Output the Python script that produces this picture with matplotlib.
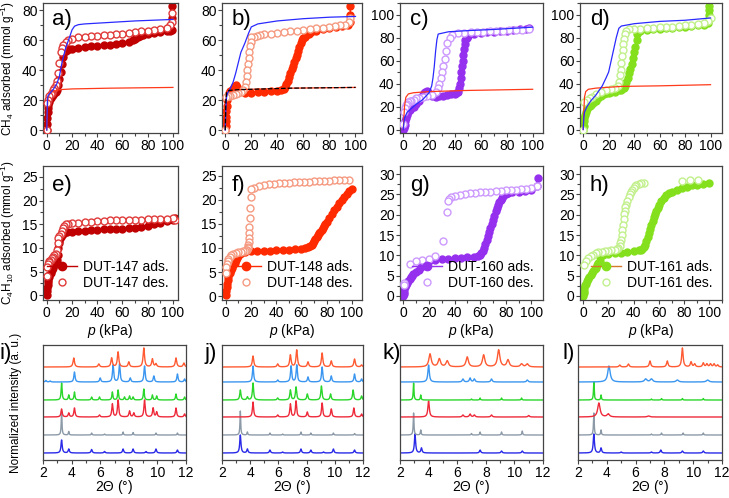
import numpy as np
import matplotlib
matplotlib.use("Agg")
import matplotlib.pyplot as plt
from matplotlib.ticker import MultipleLocator

plt.rcParams["font.family"] = ["Liberation Sans", "DejaVu Sans"]
plt.rcParams["mathtext.fontset"] = "custom"
plt.rcParams["mathtext.rm"] = "Liberation Sans"
plt.rcParams["mathtext.it"] = "Liberation Sans:italic"

# ---------------- CH4 isotherms (row 1) ----------------
# a) DUT-147
a_ads_p = [0, 0.2, 0.4, 0.6, 0.8, 1, 1.5, 2, 3, 4, 5, 6, 7, 8, 9, 10, 11, 12, 13, 14, 15, 16, 18, 20, 25, 30, 35, 40, 45, 50, 55, 60, 65, 68, 70, 72, 74, 76, 80, 85, 90, 95, 98, 99, 99, 99]
a_ads_n = [0, 4, 8, 12, 15, 17, 19, 20, 21.5, 22.5, 23.5, 24.5, 25.5, 27, 30, 34, 39, 44, 49, 52, 53, 53.5, 54, 54.5, 55, 55.5, 56, 56.3, 56.7, 57, 57.5, 58, 59, 60, 61, 62, 63, 63.5, 64, 64.8, 65.3, 66, 66.5, 67, 75, 83]
a_des_p = [99, 99, 98, 95, 90, 85, 80, 75, 70, 65, 60, 55, 50, 45, 40, 35, 30, 25, 20, 17, 15, 13, 12, 11, 10, 9, 8, 7, 6, 5, 4, 3, 2, 1, 0.5, 0]
a_des_n = [78, 72, 70, 68.5, 67.5, 67, 66.5, 66, 65.5, 65, 64.5, 64, 63.8, 63.5, 63.2, 63, 62.5, 62, 61, 60, 59, 57, 55, 52, 45, 38, 33, 30, 28, 26.5, 25, 24, 22.5, 20, 18, 0]
a_sim1_p = [0, 0.5, 1, 3, 5, 8, 10, 12, 15, 18, 20, 22, 25, 30, 50, 70, 100]
a_sim1_n = [0, 20, 23, 25, 27, 31, 36, 45, 55, 62, 67, 69.5, 70.5, 71, 72, 73, 74]
a_sim2_p = [0, 0.5, 1, 3, 6, 10, 20, 50, 100]
a_sim2_n = [0, 15, 22, 25, 26, 27, 27.5, 28, 28.5]

# b) DUT-148
b_ads_p = [0, 0.2, 0.4, 0.6, 0.8, 1, 1.5, 2, 3, 4, 5, 6, 7, 8, 9, 10, 12, 15, 20, 25, 30, 35, 40, 43, 45, 46, 47, 48, 49, 50, 51, 52, 53, 54, 55, 56, 57, 58, 59, 60, 61, 62, 64, 66, 70, 75, 80, 85, 90, 94, 96, 96, 96]
b_ads_n = [0, 3, 6, 9, 13, 16, 20, 23, 25, 26, 26.5, 27.5, 29, 30, 29, 27.5, 26, 25, 25, 25.3, 25.5, 25.8, 26, 26.5, 27.5, 29, 31, 33, 35.5, 38, 40.5, 43, 45.5, 48, 50.5, 53, 55.5, 58, 60, 61.5, 62.5, 63.5, 64.5, 65.5, 66.5, 67.3, 68, 68.7, 69.5, 70.5, 72, 77, 83]
b_des_p = [96, 95, 92, 88, 84, 80, 75, 70, 65, 60, 55, 50, 45, 40, 35, 30, 27, 24, 22, 20, 19.5, 19, 18.5, 18, 17.5, 17, 16.5, 16, 15, 14, 12, 10, 8, 6, 4, 2, 0.5, 0]
b_des_n = [75, 72, 70.5, 70, 69.5, 69, 68.5, 68, 67.5, 67, 66.5, 66, 65.5, 65, 64.5, 64, 63.5, 63, 62.5, 62, 59, 56, 52, 48, 44, 40, 36, 32, 29, 27, 25.5, 24.5, 24, 23.5, 23, 22.5, 22, 0]
b_sim1_p = [0, 0.5, 1, 2, 4, 6, 8, 10, 12, 15, 18, 20, 25, 40, 60, 80, 100]
b_sim1_n = [0, 15, 22, 25, 28, 32, 38, 45, 52, 58, 65, 69, 71, 73, 74.5, 75.5, 76]
b_sim2_p = [0, 0.5, 1, 3, 10, 50, 100]
b_sim2_n = [0, 20, 25, 26.5, 27, 28, 28.5]

# c) DUT-160
c_ads_p = [0, 0.3, 0.6, 1, 1.5, 2, 3, 4, 5, 6, 8, 10, 12, 14, 15, 16, 17, 18, 19, 20, 22, 25, 28, 31, 34, 37, 40, 41, 42, 43, 44, 44.5, 45, 45.5, 46, 46.5, 47, 47.5, 48, 49, 50, 55, 60, 65, 70, 75, 80, 85, 90, 95, 97]
c_ads_n = [0, 1, 2, 4, 7, 10, 13, 15, 17, 18.5, 20, 22, 25, 28, 30, 31.5, 33, 33.5, 33, 30, 29, 28.5, 29, 29.5, 30, 30.5, 31, 31.5, 33, 36, 40, 45, 50, 55, 60, 65, 70, 74, 78, 80, 81.5, 83, 84, 84.5, 85, 85.5, 86, 86.5, 87, 87.5, 88]
c_des_p = [97, 92, 87, 82, 77, 72, 67, 62, 57, 52, 47, 42, 38, 36, 34, 33, 32, 31, 30, 29, 28, 27, 25, 22, 18, 15, 12, 10, 8, 6, 5, 4, 3, 2, 1, 0.5, 0]
c_des_n = [87, 86.8, 86.5, 86.2, 86, 85.7, 85.5, 85.2, 85, 84.6, 84.2, 83.5, 82.5, 80, 75, 68, 61, 55, 50, 45, 40, 36, 33, 30, 29, 28.5, 27.5, 27, 26, 25, 24.5, 24, 22.5, 21, 19, 15, 5]
c_sim1_p = [0, 1, 3, 6, 10, 15, 20, 22, 23, 24, 25, 26, 27, 35, 50, 70, 100]
c_sim1_n = [0, 10, 15, 18, 22, 26, 32, 38, 45, 55, 68, 78, 83, 85, 86, 87, 89]
c_sim2_p = [0, 0.5, 1, 2, 4, 8, 20, 50, 100]
c_sim2_n = [0, 10, 20, 28, 31, 32, 33, 34, 35]

# d) DUT-161
d_ads_p = [0, 0.3, 0.6, 1, 1.5, 2, 3, 4, 5, 6, 8, 10, 12, 14, 16, 18, 20, 22, 25, 28, 30, 32, 33, 34, 35, 36, 37, 38, 39, 40, 41, 42, 42.5, 45, 50, 55, 60, 65, 70, 75, 80, 85, 90, 95, 98, 99, 99, 99, 99]
d_ads_n = [0, 3, 7, 10, 13, 15, 18, 19.5, 20.5, 21.5, 23, 25, 27.5, 29.5, 30.5, 31.5, 32, 32.5, 33, 34, 34.5, 36, 38, 41, 45, 49, 53, 57, 62, 67, 72, 78, 83, 85.5, 86.5, 87, 87.5, 88, 88.5, 89, 89.5, 90, 90.5, 91, 93, 96, 100, 104, 107]
d_des_p = [100, 98, 95, 90, 85, 80, 75, 70, 65, 60, 55, 50, 45, 40, 36, 34, 33, 32, 31.5, 31, 30.5, 30, 29.5, 29, 28, 27, 25, 22, 18, 14, 10, 7, 5, 3, 1, 0]
d_des_n = [97, 94, 92.5, 91.5, 91, 90.5, 90, 89.5, 89, 88.8, 88.5, 88, 87.8, 87.5, 87, 86, 83, 79, 74, 69, 64, 58, 52, 47, 41, 38, 36.5, 35.5, 34.5, 33, 30.5, 28.5, 27, 25.5, 24, 0]
d_sim1_p = [0, 0.5, 1, 3, 6, 10, 15, 18, 20, 22, 24, 26, 28, 30, 40, 60, 80, 100]
d_sim1_n = [0, 10, 15, 20, 25, 30, 38, 45, 50, 60, 70, 80, 88, 90, 92, 94, 95, 97]
d_sim2_p = [0, 0.5, 1, 2, 4, 10, 30, 60, 100]
d_sim2_n = [0, 15, 28, 33, 35, 36, 37.5, 38, 39]

# ---------------- C4H10 isotherms (row 2) ----------------
e_ads_p = [0, 0.2, 0.4, 0.6, 0.8, 1, 1.5, 2, 3, 4, 5, 6, 7, 8, 8.5, 9, 9.5, 10, 10.5, 11, 12, 13, 14, 16, 20, 25, 30, 35, 40, 45, 50, 55, 60, 65, 70, 75, 80, 85, 90, 95, 100, 102]
e_ads_n = [0, 0.8, 1.5, 2.2, 2.8, 3.2, 3.8, 4.2, 4.8, 5.3, 5.8, 6.3, 6.8, 7.5, 8.5, 10, 11, 11.5, 12, 12.3, 12.7, 13, 13.1, 13.3, 13.4, 13.5, 13.6, 13.7, 13.8, 13.9, 14, 14, 14.1, 14.2, 14.3, 14.5, 14.7, 15, 15.3, 15.7, 16, 16.3]
e_des_p = [102, 100, 95, 90, 85, 80, 75, 70, 65, 60, 55, 50, 45, 40, 35, 30, 25, 20, 17, 15, 14, 13, 12, 11, 10, 9, 8.5, 8, 7, 6, 5, 4, 3, 2, 1.5, 1, 0.5, 0]
e_des_n = [16, 16.3, 16.2, 16.2, 16.1, 16.1, 16, 16, 15.9, 15.9, 15.8, 15.8, 15.7, 15.6, 15.5, 15.4, 15.3, 15.2, 15.1, 15, 14.6, 14.2, 13.6, 13, 12.5, 12, 11, 9.5, 8.8, 8.4, 8.1, 7.8, 7.5, 7.2, 7, 6.6, 6, 4]

f_ads_p = [0, 0.3, 0.6, 1, 1.5, 2, 3, 4, 5, 6, 7, 8, 9, 10, 11, 12, 15, 20, 25, 30, 35, 40, 45, 50, 55, 60, 63, 65, 67, 68, 69, 70, 71, 72, 73, 74, 75, 76, 77, 78, 79, 80, 82, 84, 86, 88, 90, 92, 94, 96, 98, 100]
f_ads_n = [0.3, 1, 1.8, 2.6, 3.4, 4, 4.8, 5.4, 5.9, 6.4, 6.9, 7.4, 7.9, 8.4, 8.8, 9, 9.2, 9.3, 9.35, 9.4, 9.45, 9.5, 9.55, 9.6, 9.7, 9.8, 9.95, 10.1, 10.4, 10.7, 11, 11.4, 11.8, 12.2, 12.6, 13, 13.4, 13.8, 14.2, 14.6, 15, 15.4, 16.2, 17, 17.8, 18.5, 19.3, 20, 20.6, 21.2, 21.8, 22.3]
f_des_p = [98, 94, 90, 86, 82, 78, 74, 70, 66, 62, 58, 54, 50, 46, 42, 38, 34, 30, 26, 22, 20, 19.6, 19.3, 19, 18.8, 18.6, 18.4, 18.2, 18, 17.8, 17.5, 17, 16, 15, 14, 12, 10, 8, 6, 4, 3, 2, 1.5, 1, 0.5, 0]
f_des_n = [24, 24.1, 24, 24, 23.9, 23.9, 23.8, 23.8, 23.7, 23.7, 23.6, 23.6, 23.5, 23.5, 23.4, 23.3, 23.2, 23, 22.8, 22.5, 22.3, 20.5, 18.3, 16.2, 14.3, 13, 12, 11.2, 10.7, 10.2, 9.9, 9.6, 9.5, 9.4, 9.3, 9.2, 9.1, 9, 8.8, 8.5, 8.2, 7.8, 7.3, 6.7, 6, 4.8]

g_ads_p = [0, 0.3, 0.6, 1, 1.5, 2, 3, 4, 5, 6, 7, 8, 10, 12, 14, 16, 17, 18, 20, 25, 30, 35, 40, 45, 50, 55, 58, 60, 61, 62, 63, 64, 65, 66, 67, 68, 69, 70, 71, 72, 73, 74, 75, 76, 77, 78, 80, 82, 85, 90, 95, 100, 104, 105]
g_ads_n = [0, 0.5, 1, 1.6, 2.2, 2.7, 3.3, 3.8, 4.2, 4.6, 5, 5.3, 5.9, 6.5, 7.1, 7.7, 8, 8.4, 8.6, 8.8, 9, 9.2, 9.3, 9.4, 9.5, 9.6, 9.8, 10.1, 10.5, 11, 11.8, 12.8, 13.8, 14.8, 15.8, 16.8, 17.8, 18.8, 19.8, 20.8, 21.6, 22.4, 23.1, 23.7, 24.2, 24.6, 25, 25.3, 25.5, 25.7, 25.9, 26.2, 27, 29]
g_des_p = [104, 100, 96, 92, 88, 84, 80, 76, 72, 68, 64, 60, 56, 52, 48, 44, 40, 37, 36, 35, 34, 31, 25, 20, 15, 10, 5, 1, 0.5]
g_des_n = [27, 26.5, 26.4, 26.3, 26.2, 26.1, 26, 25.9, 25.8, 25.7, 25.6, 25.5, 25.4, 25.3, 25.1, 24.9, 24.6, 24.3, 23.8, 23.3, 20.7, 13.6, 9.9, 9, 8.8, 8.5, 7.8, 3.2, 2.6]

h_ads_p = [0, 0.3, 0.6, 1, 1.5, 2, 3, 4, 5, 6, 7, 8, 9, 10, 11, 12, 13, 13.5, 14, 16, 20, 25, 30, 35, 40, 44, 46, 47, 48, 49, 50, 51, 52, 53, 54, 55, 56, 57, 58, 59, 60, 62, 64, 66, 68, 70, 74, 78, 82, 86, 90, 95, 100]
h_ads_n = [0, 0.7, 1.3, 2, 2.6, 3, 3.7, 4.2, 4.7, 5.2, 5.7, 6.1, 6.6, 7, 7.5, 8, 8.7, 9.5, 10, 10.2, 10.3, 10.5, 10.6, 10.8, 11, 11.2, 11.4, 11.6, 12, 12.6, 13.5, 14.5, 15.5, 16.5, 17.5, 18.5, 19.4, 20.2, 21, 21.7, 22.3, 23.3, 24.1, 24.8, 25.3, 25.7, 26.2, 26.6, 26.9, 27.2, 27.4, 27.6, 27.9]
h_des_p = [91, 85, 78, 48, 46, 44, 42, 41, 40, 39, 38, 37, 36, 35, 34, 33.5, 33, 32.5, 32, 31.5, 31, 30.5, 30, 29.5, 29, 28, 27, 25, 22, 20, 17, 15, 12, 10, 8, 6, 4, 2, 1]
h_des_n = [28.5, 28.5, 28.3, 27.9, 27.8, 27.6, 27.3, 27, 26.7, 26.2, 25.6, 25, 24.3, 23.5, 22.5, 21.8, 21, 20.2, 19, 17.5, 16.2, 15, 13.8, 13, 12.4, 11.8, 11.6, 11.4, 11.2, 11.1, 11, 10.9, 10.7, 10.5, 10.2, 9.8, 9.3, 8.5, 7.6]

# ---------------- PXRD (row 3): peak positions / heights, bottom -> top ----------------
trace_colors = ["#2a2ae8", "#8c9aa8", "#ee2a3a", "#2ad62a", "#3a96f0", "#ff5a32"]
offsets = [7, 25, 43, 60, 78, 93]

pos_i = [[3.3, 3.8, 5.4, 6.3, 7.6, 8.3, 9.2, 9.9, 11.4],
         [3.3, 3.8, 5.4, 6.3, 7.6, 8.3, 9.9, 11.4],
         [3.3, 3.8, 4.2, 5.95, 6.85, 7.25, 8.05, 8.35, 9.1, 9.7, 9.95, 11.3, 11.9],
         [3.3, 3.8, 4.2, 5.4, 5.95, 6.85, 7.25, 7.7, 8.05, 8.3, 9.05, 9.65, 9.95, 11.3, 11.9],
         [2.2, 2.5, 4.2, 6.0, 6.9, 7.35, 8.1, 9.1, 9.75, 11.4, 11.9],
         [4.15, 5.9, 6.8, 7.25, 8.0, 9.05, 9.65, 9.9, 11.3, 11.85]]
hgt_i = [[13, 4, 3.5, 1.5, 4, 4, 1.5, 4, 3],
         [24, 3.5, 2, 1, 3, 2.5, 2, 2],
         [8, 4, 9, 2, 13, 17, 6, 4, 17, 9, 5, 9, 3],
         [17, 5, 8, 3, 3, 8, 10, 3, 4, 3, 11, 5, 4, 6, 3],
         [1.5, 1, 10, 4, 17, 18, 4, 16, 6, 8, 3],
         [9, 3, 9, 15, 5, 19, 8, 3, 9, 4]]
wid_i = [0.05, 0.03, 0.05, 0.04, 0.05, 0.06]

pos_j = [[3.3, 3.8, 5.4, 6.3, 7.6, 8.3, 9.2, 9.9, 11.4],
         [3.3, 3.8, 5.4, 6.3, 7.6, 8.3, 9.9, 11.4],
         [4.2, 5.95, 6.85, 7.25, 8.05, 9.1, 9.75, 11.35, 11.9],
         [3.3, 3.8, 4.2, 5.95, 6.85, 7.25, 8.05, 9.05, 9.7, 11.3, 11.9],
         [4.2, 5.95, 6.9, 7.3, 8.1, 9.1, 9.75, 11.4, 11.9],
         [4.2, 5.95, 6.85, 7.3, 8.1, 9.1, 9.75, 11.4, 11.9]]
hgt_j = [[18, 4, 3, 1, 4, 3, 1, 4, 3],
         [24, 3, 2, 1, 3, 2, 2, 1.5],
         [15, 2, 13, 16, 5, 14, 8, 9, 3],
         [10, 3, 17, 2, 10, 13, 6, 14, 6, 10, 4],
         [16, 2, 16, 17, 5, 15, 6, 8, 3],
         [11, 3, 12, 17, 5, 14, 6, 8, 2]]
wid_j = [0.05, 0.03, 0.05, 0.05, 0.05, 0.06]

pos_k = [[3.05, 3.5, 7.6, 9.1, 10.55],
         [2.95, 3.45, 7.0, 7.6, 9.1, 10.55],
         [4.0, 6.4, 6.9, 7.2, 8.4, 11.0],
         [2.95, 3.45, 7.0, 7.6, 9.1, 10.5],
         [4.0, 6.4, 6.9, 7.2, 8.4, 10.9],
         [4.1, 4.75, 5.3, 6.7, 7.85, 8.9, 9.55, 10.5, 10.9]]
hgt_k = [[19, 5, 3, 2, 2],
         [22, 5, 1.5, 3, 3, 4],
         [16, 2, 3, 2, 2, 1.5],
         [17, 5, 1, 2, 2, 2],
         [17, 3, 4, 3, 3, 2],
         [13, 8, 6, 10, 12, 17, 7, 3, 3]]
wid_k = [0.05, 0.03, 0.06, 0.03, 0.06, 0.1]

pos_l = [[3.1, 3.6, 5.0, 7.1, 7.75, 9.25, 10.7],
         [3.1, 3.6, 7.1, 7.8, 9.3, 10.7],
         [3.45, 4.1, 6.9],
         [3.1, 3.6, 7.1, 7.8, 9.25, 10.7],
         [4.15, 6.7, 7.1, 8.9, 11.0],
         [4.9, 5.5, 7.0, 8.2, 9.25, 9.85, 10.1, 10.7, 10.95, 11.2, 11.45, 11.7]]
hgt_l = [[19, 5, 1, 1, 3, 2, 2],
         [22, 5, 1, 2, 2, 2],
         [14, 3, 1],
         [18, 5, 1, 1.5, 1.5, 1.5],
         [16, 3, 3, 2, 2],
         [2, 3, 6, 6, 19, 5, 3, 4, 3, 3, 3, 2]]
wid_l = [0.05, 0.03, 0.1, 0.03, 0.1, 0.06]

W, H = 729, 498
fig = plt.figure(figsize=(W / 100, H / 100), dpi=100)


def add_ax(x0, y0, x1, y1):
    return fig.add_axes([x0 / W, 1 - y1 / H, (x1 - x0) / W, (y1 - y0) / H])


def style(ax):
    for s in ax.spines.values():
        s.set_color("#444444")
        s.set_linewidth(0.9)
    ax.tick_params(which="both", direction="out", top=False, right=False, labelsize=10, width=0.8, color="#444444", pad=1)
    ax.tick_params(which="major", length=3)
    ax.tick_params(which="minor", length=2)


cols = [(43, 178), (222, 362), (400, 543), (580, 722)]
row1 = (3, 133)
row2 = (166, 300)
row3 = (345, 460)

blue_sim = "#2a2aff"
red_sim = "#ff3a1a"

ch4 = [
    ("a)", a_ads_p, a_ads_n, a_des_p, a_des_n, a_sim1_p, a_sim1_n, a_sim2_p, a_sim2_n, "#c00000", "#e03a3a", (-3, 104), (-2, 85), 20),
    ("b)", b_ads_p, b_ads_n, b_des_p, b_des_n, b_sim1_p, b_sim1_n, b_sim2_p, b_sim2_n, "#ff2a00", "#f59a80", (-2.5, 105), (-2, 85), 20),
    ("c)", c_ads_p, c_ads_n, c_des_p, c_des_n, c_sim1_p, c_sim1_n, c_sim2_p, c_sim2_n, "#9530ee", "#cc99ff", (-2.5, 108), (-3, 110), 20),
    ("d)", d_ads_p, d_ads_n, d_des_p, d_des_n, d_sim1_p, d_sim1_n, d_sim2_p, d_sim2_n, "#84e01c", "#c2f08c", (-2.5, 109), (-3, 110), 20),
]

for k, (lab, ap, an, dp, dn, s1p, s1n, s2p, s2n, c1, c2, xl, yl, ystep) in enumerate(ch4):
    ax = add_ax(cols[k][0], row1[0], cols[k][1], row1[1])
    style(ax)
    ax.plot(ap, an, "-o", color=c1, ms=5, lw=1, zorder=2)
    ax.plot(dp, dn, "o", mfc="white", mec=c2, ms=5, mew=1, zorder=3)
    ax.plot(s2p, s2n, "-", color=red_sim, lw=0.9, zorder=4)
    if lab == "b)":
        ax.plot(s2p, s2n, "--", color="black", lw=0.9, zorder=5)
    ax.plot(s1p, s1n, "-", color=blue_sim, lw=0.9, zorder=4)
    ax.set_xlim(*xl)
    ax.set_ylim(*yl)
    ax.xaxis.set_major_locator(MultipleLocator(20))
    ax.xaxis.set_minor_locator(MultipleLocator(10))
    ax.yaxis.set_major_locator(MultipleLocator(ystep))
    ax.yaxis.set_minor_locator(MultipleLocator(ystep / 2))
    ax.text(0.07, 0.95, lab, transform=ax.transAxes, fontsize=16, va="top", ha="left")
    if k == 0:
        ax.set_ylabel("CH$_4$ adsorbed (mmol g$^{-1}$)", fontsize=8.5)
        ax.yaxis.set_label_coords((17 - 43) / 135, 0.5)

c4 = [
    ("e)", "DUT-147", e_ads_p, e_ads_n, e_des_p, e_des_n, "#c00000", "#e03a3a", "#c00000", (-3, 104), (-1, 27.3), 25),
    ("f)", "DUT-148", f_ads_p, f_ads_n, f_des_p, f_des_n, "#ff2a00", "#f59a80", "#ff2a00", (-3, 108), (-0.8, 27), 25),
    ("g)", "DUT-160", g_ads_p, g_ads_n, g_des_p, g_des_n, "#9530ee", "#cc99ff", "#9530ee", (-2.5, 109), (-1, 32), 30),
    ("h)", "DUT-161", h_ads_p, h_ads_n, h_des_p, h_des_n, "#84e01c", "#c2f08c", "#d27a2a", (-2.5, 110), (-1, 32), 30),
]

for k, (lab, name, ap, an, dp, dn, c1, c2, cl, xl, yl, ymax) in enumerate(c4):
    ax = add_ax(cols[k][0], row2[0], cols[k][1], row2[1])
    style(ax)
    ax.plot(ap, an, "-", color=c1, lw=1, zorder=2)
    ax.plot(ap, an, "o", color=c1, ms=5, zorder=2)
    ax.plot(dp, dn, "o", mfc="white", mec=c2, ms=5, mew=1, zorder=3)
    h1, = ax.plot([], [], "-o", color=cl, mfc=c1, mec=c1, ms=6, lw=1)
    h2, = ax.plot([], [], "o", mfc="white", mec=c2, ms=5, mew=1)
    ax.legend([h1, h2], [name + " ads.", name + " des."], loc="lower right", frameon=False,
              fontsize=10, handlelength=2.2, handletextpad=0.4, labelspacing=0.15, borderaxespad=0.3)
    ax.set_xlim(*xl)
    ax.set_ylim(*yl)
    ax.xaxis.set_major_locator(MultipleLocator(20))
    ax.xaxis.set_minor_locator(MultipleLocator(10))
    ax.yaxis.set_major_locator(MultipleLocator(5))
    ax.yaxis.set_minor_locator(MultipleLocator(2.5))
    ax.set_yticks(np.arange(0, ymax + 1, 5))
    ax.text(0.07, 0.93, lab, transform=ax.transAxes, fontsize=16, va="top", ha="left")
    ax.set_xlabel("$p$ (kPa)", fontsize=10, labelpad=2)
    if k == 0:
        ax.set_ylabel("C$_4$H$_{10}$ adsorbed (mmol g$^{-1}$)", fontsize=8.5)
        ax.yaxis.set_label_coords((17 - 43) / 135, 0.5)

xrd = [("i)", pos_i, hgt_i, wid_i), ("j)", pos_j, hgt_j, wid_j),
       ("k)", pos_k, hgt_k, wid_k), ("l)", pos_l, hgt_l, wid_l)]
cols3 = [(43, 186), (222, 363), (400, 543), (578, 722)]
letter_x = [-1, 204, 383, 562]
tt = np.linspace(2, 12, 2000)
for k, (lab, pos, hgt, wid) in enumerate(xrd):
    ax = add_ax(cols3[k][0], row3[0], cols3[k][1], row3[1])
    style(ax)
    for t in range(6):
        y = np.full_like(tt, offsets[t])
        for p0, h0 in zip(pos[t], hgt[t]):
            y += h0 * wid[t] ** 2 / ((tt - p0) ** 2 + wid[t] ** 2)
        ax.plot(tt, y, color=trace_colors[t], lw=1)
    ax.set_xlim(2, 12)
    ax.set_ylim(0, 115)
    ax.set_yticks([])
    ax.xaxis.set_major_locator(MultipleLocator(2))
    ax.xaxis.set_minor_locator(MultipleLocator(1))
    ax.set_xlabel("2$\\mathit{Θ}$ (°)", fontsize=10, labelpad=-1)
    fig.text(letter_x[k] / W, 1 - 354 / H, lab, fontsize=16, va="center", ha="left")
    if k == 0:
        ax.set_ylabel("Normalized intensity (a. u.)", fontsize=8.5)
        ax.yaxis.set_label_coords((22 - 43) / 143, 0.5)

fig.savefig("out.png", dpi=100)
